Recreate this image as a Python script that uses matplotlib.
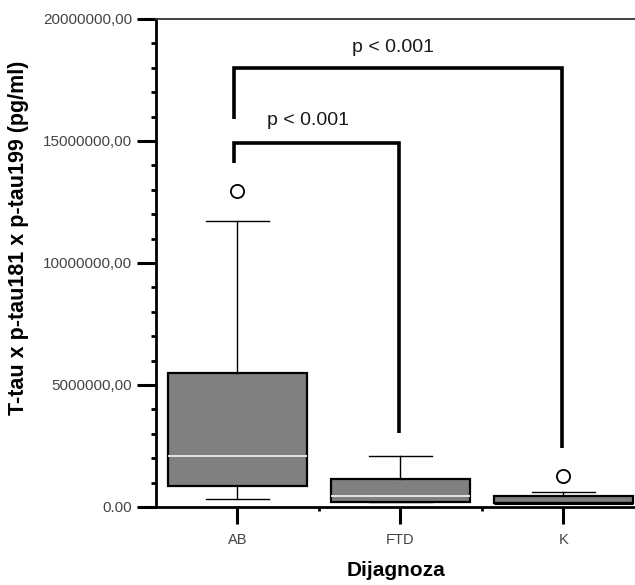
import matplotlib
matplotlib.use("Agg")
import matplotlib.pyplot as plt
from matplotlib.ticker import MultipleLocator, FixedLocator

# ---- data ----
categories = ["AB", "FTD", "K"]
q1 = [860000, 200000, 160000]
medians = [2090000, 450000, 160000]
q3 = [5490000, 1150000, 450000]
whisker_low = [330000, 200000, 160000]
whisker_high = [11720000, 2090000, 610000]
outliers = [[12950000], [], [1270000]]

y_ticks = [0, 5000000, 10000000, 15000000, 20000000]
y_tick_labels = ["0.00", "5000000,00", "10000000,00", "15000000,00", "20000000,00"]

# significance brackets
bracket_groups = [(0, 1), (0, 2)]
bracket_left_low = [14100000, 15900000]
bracket_top = [14900000, 18000000]
bracket_right_low = [3030000, 2420000]
p_labels = ["p < 0.001", "p < 0.001"]
p_label_x = [0.43, 0.957]
p_label_y = [15820000, 18850000]

plt.rcParams['font.family'] = ['Liberation Sans', 'DejaVu Sans']

fig = plt.figure(figsize=(6.35, 5.85), dpi=100)
ax = fig.add_axes([156 / 635, 1 - 507 / 585, 1 - 156 / 635, (507 - 19) / 585])

stats = []
for i, c in enumerate(categories):
    stats.append(dict(label=c, q1=q1[i], med=medians[i], q3=q3[i],
                      whislo=whisker_low[i], whishi=whisker_high[i],
                      fliers=outliers[i]))

parts = ax.bxp(stats, positions=range(len(categories)), widths=0.85,
               capwidths=0.39, patch_artist=True, zorder=3,
               boxprops=dict(facecolor="#808080", edgecolor="black", linewidth=1.6),
               medianprops=dict(color="#e6e6e6", linewidth=1.4),
               whiskerprops=dict(color="black", linewidth=1.0),
               capprops=dict(color="black", linewidth=1.0),
               flierprops=dict(marker="o", markerfacecolor="none", markeredgecolor="black",
                               markersize=9.5, markeredgewidth=1.3))
# K median coincides with the lower quartile edge
parts["medians"][2].set_color("black")
parts["medians"][2].set_linewidth(2.2)

# brackets
for (a, b), ll, top, rl in zip(bracket_groups, bracket_left_low, bracket_top, bracket_right_low):
    ax.plot([a - 0.02, a - 0.02, b - 0.01, b - 0.01], [ll, top, top, rl],
            color="black", linewidth=2.6, solid_capstyle="butt",
            solid_joinstyle="miter", zorder=4)
for tx, ty, t in zip(p_label_x, p_label_y, p_labels):
    ax.text(tx, ty, t, ha="center", va="center", fontsize=14, color="#1a1a1a")

ax.set_xlim(-0.5, 2.44)
ax.set_ylim(0, 20000000)

ax.yaxis.set_major_locator(FixedLocator(y_ticks))
ax.set_yticklabels(y_tick_labels)
ax.yaxis.set_minor_locator(MultipleLocator(1000000))
ax.set_xticks(range(len(categories)))
ax.set_xticklabels(categories)
ax.xaxis.set_minor_locator(FixedLocator([0.5, 1.5]))

ax.tick_params(axis="y", which="major", direction="out", length=14, width=2.2,
               labelsize=11, labelcolor="#444444", pad=3)
ax.tick_params(axis="y", which="minor", direction="out", length=3.5, width=2.0)
ax.tick_params(axis="x", which="major", direction="out", length=12, width=2.2,
               labelsize=10.5, labelcolor="#444444", pad=7)
ax.tick_params(axis="x", which="minor", direction="out", length=3, width=2.0)

ax.spines["left"].set_linewidth(2.0)
ax.spines["bottom"].set_linewidth(2.0)
ax.spines["top"].set_linewidth(1.3)
ax.spines["top"].set_color("#333333")
ax.spines["right"].set_visible(False)

ax.set_xlabel("Dijagnoza", fontsize=15, fontweight="bold", labelpad=10)
ax.set_ylabel("T-tau x p-tau181 x p-tau199 (pg/ml)", fontsize=15.5, fontweight="bold")
ax.yaxis.set_label_coords((29 - 156) / 479, (507 - 238) / 488)

fig.savefig("out.png", dpi=100, facecolor="white")
